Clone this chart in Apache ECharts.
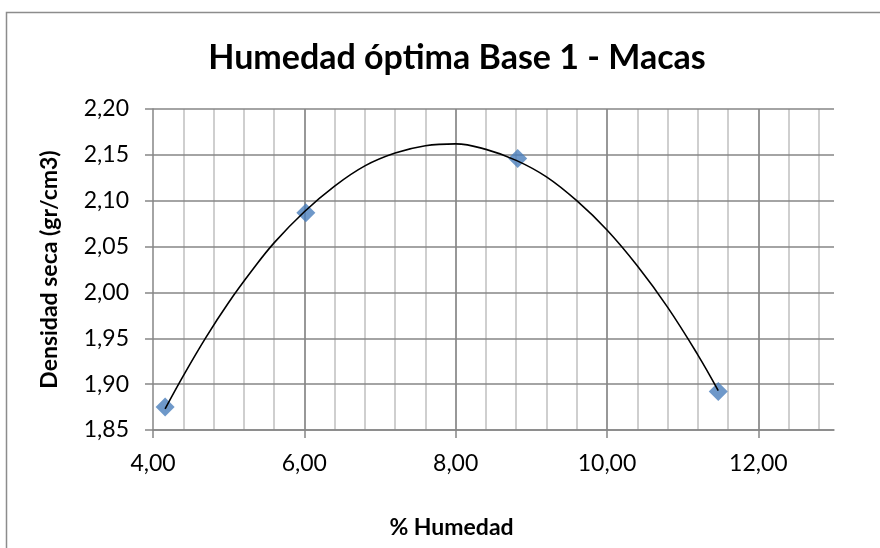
<!DOCTYPE html>
<html>
<head>
<meta charset="utf-8">
<script src="https://cdn.jsdelivr.net/npm/echarts@6/dist/echarts.min.js"></script>
<style>
  html, body { margin: 0; padding: 0; background: #fff; }
  #chart { width: 880px; height: 548px; }
</style>
</head>
<body>
<div id="chart"></div>
<script>
// puntos medidos (% humedad, densidad seca)
const humedad = [4.16, 6.02, 8.82, 11.47];
const densidad = [1.875, 2.087, 2.146, 1.892];
// linea de tendencia
const tendX = [4.16, 4.4, 4.7, 5.0, 5.3, 5.6, 6.0, 6.4, 6.8, 7.2, 7.6, 8.0, 8.4, 8.8, 9.2, 9.6, 10.0, 10.4, 10.8, 11.2, 11.47];
const tendY = [1.873, 1.909, 1.951, 1.989, 2.023, 2.054, 2.088, 2.116, 2.138, 2.152, 2.160, 2.162, 2.156, 2.144, 2.126, 2.100, 2.068, 2.029, 1.984, 1.932, 1.893];

const chart = echarts.init(document.getElementById("chart"));
const fmt = (v) => v.toFixed(2).replace(".", ",");
const fontFam = "Lato, 'DejaVu Sans', sans-serif";

const option = {
  animation: false,
  backgroundColor: "#fff",
  title: {
    text: "Humedad óptima Base 1 - Macas",
    left: 452,
    textAlign: "center",
    top: 36,
    textStyle: { fontFamily: fontFam, fontWeight: "bold", fontSize: 34, color: "#000" },
  },
  graphic: [
    {
      type: "rect",
      left: 4,
      top: 10,
      shape: { width: 1000, height: 1000 },
      style: { fill: "none", stroke: "#8c8c8c", lineWidth: 1.5 },
      silent: true,
    },
  ],
  grid: { left: 153, right: 46, top: 109, bottom: 118 },
  xAxis: [
    {
      type: "value",
      min: 4,
      max: 13,
      interval: 2,
      name: "% Humedad",
      nameLocation: "middle",
      nameGap: 86,
      nameTextStyle: { fontFamily: fontFam, fontWeight: "bold", fontSize: 23, color: "#000", padding: [0, 84, 0, 0] },
      axisLine: { lineStyle: { color: "#868686", width: 1.5 } },
      axisTick: { show: true, length: 8, lineStyle: { color: "#868686", width: 1.5 } },
      axisLabel: { margin: 22, fontFamily: fontFam, fontSize: 23, color: "#000", showMaxLabel: false, formatter: fmt },
      splitLine: { show: true, showMinLine: false, showMaxLine: false, lineStyle: { color: "#868686", width: 1.5 } },
      z: 3,
    },
    {
      type: "value",
      min: 4,
      max: 13,
      interval: 0.4,
      position: "bottom",
      axisLine: { show: false },
      axisTick: { show: false },
      axisLabel: { show: false },
      splitLine: { show: true, showMinLine: false, showMaxLine: false, lineStyle: { color: "#bfbfbf", width: 1.5 } },
      z: 1,
    },
  ],
  yAxis: {
    type: "value",
    min: 1.85,
    max: 2.2,
    interval: 0.05,
    name: "Densidad seca (gr/cm3)",
    nameLocation: "middle",
    nameGap: 92,
    nameTextStyle: { fontFamily: fontFam, fontWeight: "bold", fontSize: 23, color: "#000" },
    axisLine: { show: true, lineStyle: { color: "#868686", width: 1.5 } },
    axisTick: { show: true, length: 8, lineStyle: { color: "#868686", width: 1.5 } },
    axisLabel: { margin: 24, fontFamily: fontFam, fontSize: 23, color: "#000", formatter: fmt },
    splitLine: { show: true, lineStyle: { color: "#868686", width: 1.5 } },
    z: 3,
  },
  series: [
    {
      type: "scatter",
      xAxisIndex: 0,
      symbol: "diamond",
      symbolSize: 19,
      itemStyle: { color: "#4a7ebb" },
      data: humedad.map((h, i) => [h, densidad[i]]),
      z: 4,
    },
    {
      type: "line",
      xAxisIndex: 0,
      smooth: 0.4,
      showSymbol: false,
      lineStyle: { color: "#000", width: 1.6 },
      data: tendX.map((x, i) => [x, tendY[i]]),
      z: 5,
    },
  ],
};
chart.setOption(option);
</script>
</body>
</html>
